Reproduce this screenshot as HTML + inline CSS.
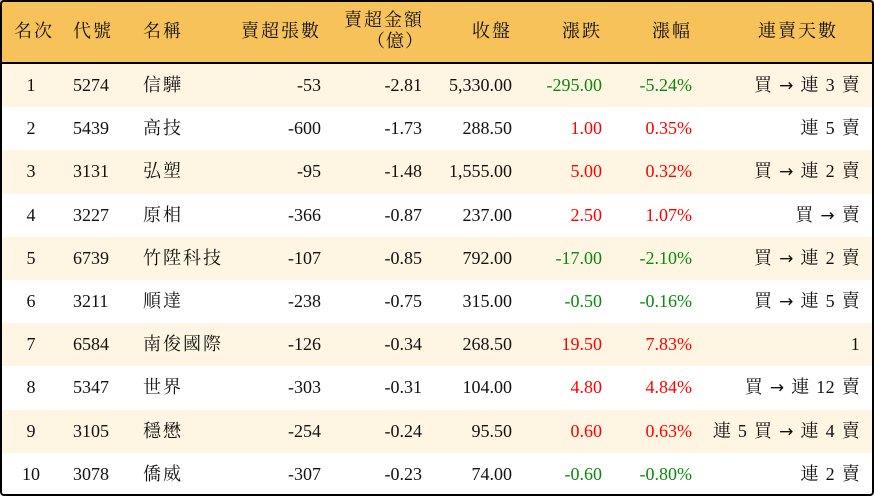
<!DOCTYPE html>
<html><head><meta charset="utf-8"><style>
*{margin:0;padding:0;box-sizing:border-box}
body{width:874px;height:496px;background:#fff;font-family:"Liberation Serif","Noto Serif CJK SC",serif;font-size:18px;color:#111;overflow:hidden;position:relative}
#b{position:absolute;left:0;top:0;width:874px;height:496px;border:2px solid #000;border-radius:4px}
.h{position:absolute;left:0;top:0;width:874px;height:64px;background:#F8C25A;border-bottom:2px solid #000}
.r{position:absolute;left:0;width:874px;height:43.2px}
.c{position:absolute;white-space:nowrap;line-height:20px}
.g{color:#0a8a0a}.d{color:#f00}
.ar{font-family:"DejaVu Sans",sans-serif;font-size:17px}
</style></head><body><div id="rows"></div><div id="b"></div>
<script>
const H=[["名次",14,'l'],["代號",73,'l'],["名稱",143,'l'],["賣超張數",321,'r'],["收盤",512,'r'],["漲跌",602,'r'],["漲幅",692,'r'],["連賣天數",798,'m']];
const D=[
["1","5274","信驊","-53","-2.81","5,330.00","-295.00","-5.24%","買 → 連 3 賣","g"],
["2","5439","高技","-600","-1.73","288.50","1.00","0.35%","連 5 賣","d"],
["3","3131","弘塑","-95","-1.48","1,555.00","5.00","0.32%","買 → 連 2 賣","d"],
["4","3227","原相","-366","-0.87","237.00","2.50","1.07%","買 → 賣","d"],
["5","6739","竹陞科技","-107","-0.85","792.00","-17.00","-2.10%","買 → 連 2 賣","g"],
["6","3211","順達","-238","-0.75","315.00","-0.50","-0.16%","買 → 連 5 賣","g"],
["7","6584","南俊國際","-126","-0.34","268.50","19.50","7.83%","1","d"],
["8","5347","世界","-303","-0.31","104.00","4.80","4.84%","買 → 連 12 賣","d"],
["9","3105","穩懋","-254","-0.24","95.50","0.60","0.63%","連 5 買 → 連 4 賣","d"],
["10","3078","僑威","-307","-0.23","74.00","-0.60","-0.80%","連 2 賣","g"]];
let s='<div class="h"></div>';
function cell(t,x,a,y,cls,ls){let st=a=='l'?`left:${x}px`:a=='r'?`right:${874-x}px`:`left:${x}px;transform:translateX(-50%)`;
return `<div class="c ${cls||''}" style="${st};top:${y}px;letter-spacing:${ls||0}px">${t}</div>`;}
H.forEach(h=>{s+=cell(h[0],h[1],h[2],21,'',2)});
s+=cell("賣超金額",424,'r',10,'',2)+cell("（億）",367,'l',31,'',1);
D.forEach((r,i)=>{const top=64+i*43.2;
s+=`<div class="r" style="top:${top}px;background:${i%2==0?'#FEF6E3':'#fff'}"></div>`;
const y=top+11;
const last=r[8].replace('→','<span class="ar">→</span>');
s+=cell(r[0],31,'m',y)+cell(r[1],73,'l',y)+cell(r[2],143,'l',y,'',2)+cell(r[3],321,'r',y)+cell(r[4],422,'r',y)+cell(r[5],512,'r',y)+cell(r[6],602,'r',y,r[9])+cell(r[7],692,'r',y,r[9])+`<div class="c" style="right:14px;top:${y}px;word-spacing:2px;letter-spacing:0.3px">${last}</div>`;
});
document.getElementById('rows').innerHTML=s;
</script>
</body></html>
